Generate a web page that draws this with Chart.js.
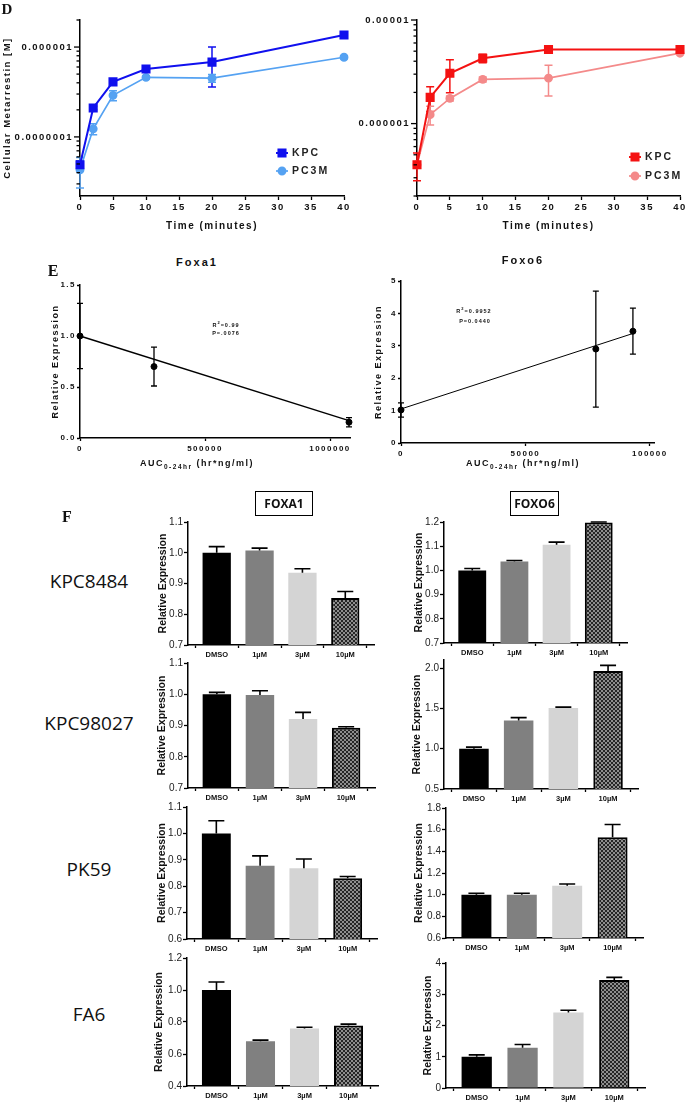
<!DOCTYPE html>
<html><head><meta charset="utf-8">
<script src="https://cdn.jsdelivr.net/npm/chart.js@4.4.1/dist/chart.umd.min.js"></script>
<style>
html,body{margin:0;padding:0;background:#fff}
body{width:685px;height:1102px;position:relative;overflow:hidden;font-family:"Liberation Sans",Arial,sans-serif;color:#111}
canvas{position:absolute}
.t{position:absolute;white-space:nowrap;transform:translate(-50%,-50%)}
.box{position:absolute;border:1px solid #000;box-sizing:border-box;display:flex;align-items:center;justify-content:center;font:bold 12px "Open Sans",sans-serif}
</style></head><body>
<script>
// ---------- DATA ----------
const timeMin = [0, 2, 5, 10, 20, 40];
const timeTicks = [0, 5, 10, 15, 20, 25, 30, 35, 40];
const kpcLeft = [4.9e-8, 2.1e-7, 4.1e-7, 5.7e-7, 6.8e-7, 1.36e-6];
const kpcLeftSd = [5e-9, 1e-8, 2e-8, 3e-8, 3.2e-7, 5e-8];
const pc3mLeft = [4.3e-8, 1.23e-7, 2.9e-7, 4.6e-7, 4.5e-7, 7.7e-7];
const pc3mLeftSd = [1.6e-8, 1.7e-8, 3.7e-8, 2e-8, 4.5e-8, 3e-8];
const kpcRight = [4.0e-7, 1.79e-6, 3.06e-6, 4.27e-6, 5.2e-6, 5.2e-6];
const kpcRightSd = [1.2e-7, 4.8e-7, 1.07e-6, 4e-7, 1e-7, 1e-7];
const pc3mRight = [4.0e-7, 1.22e-6, 1.75e-6, 2.67e-6, 2.75e-6, 4.78e-6];
const pc3mRightSd = [3e-8, 2.5e-7, 1e-7, 1.5e-7, 9e-7, 1e-7];
const dLeftTicks = [3e-8,4e-8,5e-8,6e-8,7e-8,8e-8,9e-8,1e-7,2e-7,3e-7,4e-7,5e-7,6e-7,7e-7,8e-7,9e-7,1e-6,2e-6];
const dLeftMajor = [1e-7, 1e-6];
const dLeftMajorLabels = ['0.0000001', '0.000001'];
const dRightTicks = [2e-7,3e-7,4e-7,5e-7,6e-7,7e-7,8e-7,9e-7,1e-6,2e-6,3e-6,4e-6,5e-6,6e-6,7e-6,8e-6,9e-6,1e-5];
const dRightMajor = [1e-6, 1e-5];
const dRightMajorLabels = ['0.000001', '0.00001'];

const foxa1Auc = [0, 296000, 1076000];
const foxa1Expr = [1.0, 0.70, 0.155];
const foxa1Sd = [0.32, 0.19, 0.045];
const foxa1FitAuc = [0, 1076000];
const foxa1FitExpr = [1.0, 0.17];
const foxa1XTicks = [0, 500000, 1000000];
const foxa1YTicks = [0, 0.5, 1.0, 1.5];
const foxo6Auc = [0, 78300, 93200];
const foxo6Expr = [1.02, 2.9, 3.45];
const foxo6Sd = [0.22, 1.79, 0.71];
const foxo6FitAuc = [0, 93200];
const foxo6FitExpr = [1.05, 3.38];
const foxo6XTicks = [0, 50000, 100000];
const foxo6YTicks = [0, 1, 2, 3, 4, 5];

const doses = ['DMSO', '1µM', '3µM', '10µM'];
const cellLines = ['KPC8484', 'KPC98027', 'PK59', 'FA6'];
const foxa1KPC8484 = [1.0, 1.007, 0.935, 0.853];
const foxa1KPC8484Err = [0.02, 0.008, 0.013, 0.021];
const foxo6KPC8484 = [1.0, 1.037, 1.106, 1.198];
const foxo6KPC8484Err = [0.008, 0.004, 0.011, 0.002];
const foxa1KPC98027 = [1.0, 0.998, 0.921, 0.893];
const foxa1KPC98027Err = [0.006, 0.013, 0.021, 0.003];
const foxo6KPC98027 = [1.0, 1.35, 1.504, 1.963];
const foxo6KPC98027Err = [0.02, 0.035, 0.012, 0.07];
const foxa1PK59 = [1.0, 0.877, 0.868, 0.83];
const foxa1PK59Err = [0.048, 0.038, 0.035, 0.007];
const foxo6PK59 = [1.0, 1.0, 1.083, 1.53];
const foxo6PK59Err = [0.013, 0.013, 0.016, 0.118];
const foxa1FA6 = [1.0, 0.68, 0.76, 0.778];
const foxa1FA6Err = [0.05, 0.007, 0.007, 0.009];
const foxo6FA6 = [1.0, 1.29, 2.42, 3.46];
const foxo6FA6Err = [0.06, 0.1, 0.07, 0.08];
const ticksA1 = [0.7, 0.8, 0.9, 1.0, 1.1];
const ticksO1 = [0.7, 0.8, 0.9, 1.0, 1.1, 1.2];
const ticksA2 = [0.7, 0.8, 0.9, 1.0, 1.1];
const ticksO2 = [0.5, 1.0, 1.5, 2.0];
const ticksA3 = [0.6, 0.7, 0.8, 0.9, 1.0, 1.1];
const ticksO3 = [0.6, 0.8, 1.0, 1.2, 1.4, 1.6, 1.8];
const ticksA4 = [0.4, 0.6, 0.8, 1.0, 1.2];
const ticksO4 = [0, 1, 2, 3, 4];

// ---------- HELPERS ----------
const FONT = '"Liberation Sans", Arial, sans-serif';
Chart.defaults.font.family = FONT;
Chart.defaults.color = '#111';

function spacingPlugin(px) {
  const set = c => { c.ctx.letterSpacing = px + 'px'; };
  return { id: 'sp', beforeUpdate: set, beforeLayout: set, beforeDraw: set };
}
function errPlugin(cap, upperOnly, before) {
  const draw = chart => {
    const ctx = chart.ctx;
    chart.data.datasets.forEach((ds, i) => {
      if (!ds.errors) return;
      const meta = chart.getDatasetMeta(i);
      const ys = chart.scales.y;
      ctx.save();
      ctx.strokeStyle = ds.errorColor; ctx.lineWidth = ds.errorWidth;
      meta.data.forEach((el, j) => {
        const raw = ds.data[j];
        const v = typeof raw === 'object' ? raw.y : raw;
        const e = ds.errors[j];
        if (!e) return;
        const top = ys.getPixelForValue(v + e);
        const bot = upperOnly ? el.y : ys.getPixelForValue(v - e);
        ctx.beginPath();
        ctx.moveTo(el.x, top); ctx.lineTo(el.x, bot);
        ctx.moveTo(el.x - cap / 2, top); ctx.lineTo(el.x + cap / 2, top);
        if (!upperOnly) { ctx.moveTo(el.x - cap / 2, bot); ctx.lineTo(el.x + cap / 2, bot); }
        ctx.stroke();
      });
      ctx.restore();
    });
  };
  return before ? { id: 'eb', beforeDatasetsDraw: draw } : { id: 'eb', afterDatasetsDraw: draw };
}
function logTickPlugin(major) {
  return { id: 'lt', afterDraw(chart) {
    const s = chart.scales.y, ctx = chart.ctx;
    ctx.save(); ctx.strokeStyle = '#000'; ctx.lineWidth = 1.3;
    s.ticks.forEach(t => {
      const y = s.getPixelForValue(t.value);
      const isMaj = major.some(m => Math.abs(m - t.value) / m < 1e-6);
      const len = isMaj ? 6 : 3.5;
      ctx.beginPath(); ctx.moveTo(s.right - len, y); ctx.lineTo(s.right, y); ctx.stroke();
    });
    ctx.restore();
  } };
}
function legendPlugin(entries) {
  return { id: 'il', afterDraw(chart) {
    const ctx = chart.ctx, a = chart.chartArea;
    ctx.save();
    entries.forEach(en => {
      const ds = chart.data.datasets[en.ds];
      const x = a.right + en.dx, y = a.bottom + en.dy;
      ctx.strokeStyle = ds.borderColor; ctx.lineWidth = ds.borderWidth;
      ctx.beginPath(); ctx.moveTo(x - 6, y); ctx.lineTo(x + 6, y); ctx.stroke();
      ctx.fillStyle = ds.pointBackgroundColor; ctx.strokeStyle = ds.pointBorderColor;
      Chart.helpers.drawPoint(ctx, { pointStyle: ds.pointStyle, radius: ds.pointRadius, rotation: 0, borderWidth: 1 }, x, y);
      ctx.fillStyle = '#222'; ctx.font = 'bold 10.5px ' + FONT; ctx.textBaseline = 'middle'; ctx.textAlign = 'left';
      ctx.letterSpacing = '2px';
      ctx.fillText(ds.label, x + 10, y);
    });
    ctx.restore();
  } };
}
function mk(area, yW, xH, cfg, plugins) {
  const pad = { left: 0, right: 16, top: 16, bottom: 0 };
  const W = area.R - area.L + yW + pad.left + pad.right;
  const H = area.B - area.T + xH + pad.top + pad.bottom;
  const cv = document.createElement('canvas');
  cv.width = W; cv.height = H;
  Object.assign(cv.style, { left: (area.L - yW - pad.left) + 'px', top: (area.T - pad.top) + 'px', width: W + 'px', height: H + 'px' });
  document.body.appendChild(cv);
  const o = cfg.options;
  o.responsive = false; o.animation = false; o.devicePixelRatio = 1; o.layout = { padding: pad };
  o.plugins = { legend: { display: false }, tooltip: { enabled: false } };
  o.scales.x.afterFit = s => { s.height = xH; };
  o.scales.y.afterFit = s => { s.width = yW; };
  cfg.plugins = plugins || [];
  return new Chart(cv, cfg);
}
function text(html, x, y, css) {
  const d = document.createElement('div');
  d.className = 't'; d.innerHTML = html;
  d.style.left = x + 'px'; d.style.top = y + 'px';
  d.style.cssText += css;
  document.body.appendChild(d);
}
const axisGrid = (len) => ({ display: true, drawOnChartArea: false, drawTicks: true, tickLength: len, tickWidth: 1.3, tickColor: '#000' });
const axisBorder = { display: true, color: '#000', width: 1.5 };

// ---------- PANEL D ----------
function dPanel(area, yW, kpc, kpcSd, pc, pcSd, cols, lo, hi, ticks, major, majorLabels, yTitle, leg) {
  const xy = arr => timeMin.map((t, i) => ({ x: t, y: arr[i] }));
  mk(area, yW, 38, {
    type: 'scatter',
    data: { datasets: [
      { label: 'KPC', data: xy(kpc), errors: kpcSd, errorColor: cols[0], errorWidth: 1.5, showLine: true,
        borderColor: cols[0], backgroundColor: cols[0], pointBackgroundColor: cols[0], pointBorderColor: cols[0],
        pointStyle: 'rect', pointRadius: 5, borderWidth: 2, clip: false },
      { label: 'PC3M', data: xy(pc), errors: pcSd, errorColor: cols[1], errorWidth: 1.5, showLine: true,
        borderColor: cols[1], backgroundColor: cols[1], pointBackgroundColor: cols[1], pointBorderColor: cols[1],
        pointStyle: 'circle', pointRadius: 3.6, borderWidth: 1.7, clip: false }
    ] },
    options: { scales: {
      x: { type: 'linear', min: 0, max: 40,
        afterBuildTicks: s => { s.ticks = timeTicks.map(v => ({ value: v })); },
        ticks: { font: { size: 9.5, weight: 'bold' }, color: '#111', padding: 2, maxRotation: 0, autoSkip: false },
        grid: axisGrid(4), border: axisBorder,
        title: { display: true, text: 'Time (minutes)', font: { size: 10, weight: 'bold' }, color: '#111', padding: { top: 0, bottom: 2 } } },
      y: { type: 'logarithmic', min: lo, max: hi,
        afterBuildTicks: s => { s.ticks = ticks.map(v => ({ value: v })); },
        ticks: { autoSkip: false, padding: 7, font: { size: 9.5, weight: 'bold' }, color: '#111',
          callback: v => { const k = major.findIndex(m => Math.abs(m - v) / m < 1e-6); return k >= 0 ? majorLabels[k] : ''; } },
        grid: { display: true, drawOnChartArea: false, drawTicks: false }, border: axisBorder,
        title: { display: !!yTitle, text: yTitle || '', font: { size: 9.5, weight: 'bold' }, color: '#111', padding: { top: 0, bottom: 0 } } }
    } }
  }, [spacingPlugin(1.5), errPlugin(8, false, true), logTickPlugin(major), legendPlugin(leg)]);
}
dPanel({ L: 80, R: 344, T: 20, B: 196 }, 78, kpcLeft, kpcLeftSd, pc3mLeft, pc3mLeftSd, ['#1010ee', '#55a2f2'],
  2.2e-8, 2e-6, dLeftTicks, dLeftMajor, dLeftMajorLabels, 'Cellular Metarrestin [M]',
  [{ ds: 0, dx: -62, dy: -43 }, { ds: 1, dx: -62, dy: -25 }]);
dPanel({ L: 417, R: 680, T: 20, B: 196 }, 60, kpcRight, kpcRightSd, pc3mRight, pc3mRightSd, ['#f41212', '#f48a8a'],
  2e-7, 1e-5, dRightTicks, dRightMajor, dRightMajorLabels, '',
  [{ ds: 0, dx: -45, dy: -39 }, { ds: 1, dx: -45, dy: -20 }]);

// ---------- PANEL E ----------
function ePanel(area, yW, auc, expr, sd, fitX, fitY, xMax, xTicks, yMax, yTicks, yDec, fitW) {
  mk(area, yW, 22, {
    type: 'scatter',
    data: { datasets: [
      { data: auc.map((v, i) => ({ x: v, y: expr[i] })), errors: sd, errorColor: '#000', errorWidth: 1.3,
        showLine: false, pointRadius: 3, pointBackgroundColor: '#000', pointBorderColor: '#000', backgroundColor: '#000', clip: false },
      { data: fitX.map((v, i) => ({ x: v, y: fitY[i] })), showLine: true, pointRadius: 0, borderColor: '#000', borderWidth: fitW, clip: false }
    ] },
    options: { scales: {
      x: { type: 'linear', min: 0, max: xMax,
        afterBuildTicks: s => { s.ticks = xTicks.map(v => ({ value: v })); },
        ticks: { font: { size: 8, weight: 'bold' }, color: '#111', padding: 3, maxRotation: 0, autoSkip: false, callback: v => String(v) },
        grid: axisGrid(3), border: axisBorder },
      y: { type: 'linear', min: 0, max: yMax,
        afterBuildTicks: s => { s.ticks = yTicks.map(v => ({ value: v })); },
        ticks: { font: { size: 8, weight: 'bold' }, color: '#111', padding: 1, autoSkip: false, callback: v => v.toFixed(yDec) },
        grid: axisGrid(3), border: axisBorder,
        title: { display: true, text: 'Relative Expression', font: { size: 9, weight: 'bold' }, color: '#111', padding: { top: 0, bottom: 0 } } }
    } }
  }, [spacingPlugin(1.5), errPlugin(6, false, true)]);
}
ePanel({ L: 80, R: 350, T: 285, B: 438 }, 30, foxa1Auc, foxa1Expr, foxa1Sd, foxa1FitAuc, foxa1FitExpr, 1080000, foxa1XTicks, 1.5, foxa1YTicks, 1, 1.4);
ePanel({ L: 401, R: 655, T: 281, B: 443 }, 28, foxo6Auc, foxo6Expr, foxo6Sd, foxo6FitAuc, foxo6FitExpr, 102000, foxo6XTicks, 5, foxo6YTicks, 0, 1);

// ---------- PANEL F ----------
function checker() {
  const c = document.createElement('canvas'); c.width = 4; c.height = 4;
  const g = c.getContext('2d');
  g.fillStyle = '#262626'; g.fillRect(0, 0, 4, 4);
  g.fillStyle = '#8e8e8e'; g.fillRect(0, 0, 2, 2); g.fillRect(2, 2, 2, 2);
  return g.createPattern(c, 'repeat');
}
const pat = checker();
function fPanel(area, yW, vals, errs, ticks, dec) {
  mk(area, yW, 18, {
    type: 'bar',
    data: { datasets: [{
      data: vals.map((v, i) => ({ x: i, y: v })), errors: errs, errorColor: '#000', errorWidth: 1.6,
      backgroundColor: ['#000000', '#808080', '#d4d4d4', pat],
      borderColor: ['#000000', '#808080', '#d4d4d4', '#000000'], borderWidth: [0, 0, 0, 2],
      barPercentage: 0.66, categoryPercentage: 1
    }] },
    options: { scales: {
      x: { type: 'linear', min: -0.67, max: 3.67, offset: false,
        afterBuildTicks: s => { s.ticks = doses.map((d, i) => ({ value: i })); },
        ticks: { font: { size: 7.5, weight: 'bold' }, color: '#111', padding: 2.5, maxRotation: 0, autoSkip: false, callback: v => doses[v] },
        grid: axisGrid(3), border: axisBorder },
      y: { min: ticks[0], max: ticks[ticks.length - 1] + (ticks === ticksO2 ? 0.1 : 0),
        afterBuildTicks: s => { s.ticks = ticks.map(v => ({ value: v })); },
        ticks: { font: { size: 10 }, color: '#222', padding: 1, autoSkip: false, callback: v => v.toFixed(dec) },
        grid: axisGrid(4), border: axisBorder,
        title: { display: true, text: 'Relative Expression', font: { size: 10.5, weight: 'bold' }, color: '#111', padding: { top: 0, bottom: 0 } } }
    } }
  }, [errPlugin(16, true, false)]);
}
fPanel({ L: 188, R: 374, T: 522, B: 645 }, 31, foxa1KPC8484, foxa1KPC8484Err, ticksA1, 1);
fPanel({ L: 444, R: 627, T: 522, B: 643 }, 31, foxo6KPC8484, foxo6KPC8484Err, ticksO1, 1);
fPanel({ L: 188, R: 375, T: 663, B: 788 }, 32, foxa1KPC98027, foxa1KPC98027Err, ticksA2, 1);
fPanel({ L: 444, R: 638, T: 660, B: 789 }, 33, foxo6KPC98027, foxo6KPC98027Err, ticksO2, 1);
fPanel({ L: 187, R: 377, T: 807, B: 939 }, 31, foxa1PK59, foxa1PK59Err, ticksA3, 1);
fPanel({ L: 446, R: 643, T: 808, B: 938 }, 33, foxo6PK59, foxo6PK59Err, ticksO3, 1);
fPanel({ L: 187, R: 378, T: 958, B: 1086 }, 34, foxa1FA6, foxa1FA6Err, ticksA4, 1);
fPanel({ L: 446, R: 645, T: 963, B: 1088 }, 24, foxo6FA6, foxo6FA6Err, ticksO4, 0);

// ---------- TEXT ----------
const serif = 'font:bold 16px "Liberation Serif",serif;';
text('D', 7, 9, serif + 'font-size:15px;');
text('E', 53, 271, serif);
text('F', 67, 517, serif);
const spaced = 'font-weight:bold;font-family:"Liberation Sans",Arial,sans-serif;color:#111;';
text('Foxa1', 197, 262, spaced + 'font-size:11px;letter-spacing:2px;');
text('Foxo6', 523, 260, spaced + 'font-size:11px;letter-spacing:2px;');
text('AUC<sub style="font-size:6.5px">0-24hr</sub> (hr*ng/ml)', 197, 464, spaced + 'font-size:9px;letter-spacing:1.5px;');
text('AUC<sub style="font-size:6.5px">0-24hr</sub> (hr*ng/ml)', 523, 464, spaced + 'font-size:9px;letter-spacing:1.5px;');
text('R<sup style="font-size:4px">2</sup>=0.99', 226, 324, spaced + 'font-size:5.5px;letter-spacing:1px;');
text('P=.0076', 226, 333, spaced + 'font-size:5.5px;letter-spacing:1px;');
text('R<sup style="font-size:4px">2</sup>=0.9952', 474, 310, spaced + 'font-size:5.5px;letter-spacing:1px;');
text('P=0.0440', 475, 321, spaced + 'font-size:5.5px;letter-spacing:1px;');
const rowY = [581, 723, 869, 1014];
cellLines.forEach((c, i) => text(c, 89, rowY[i], 'font:19px "Open Sans",sans-serif;color:#111;'));
function box(label, x, y, w, h) {
  const d = document.createElement('div'); d.className = 'box'; d.textContent = label;
  Object.assign(d.style, { left: x + 'px', top: y + 'px', width: w + 'px', height: h + 'px' });
  document.body.appendChild(d);
}
box('FOXA1', 255, 491, 58, 25);
box('FOXO6', 510, 491, 49, 25);
</script>
</body></html>
